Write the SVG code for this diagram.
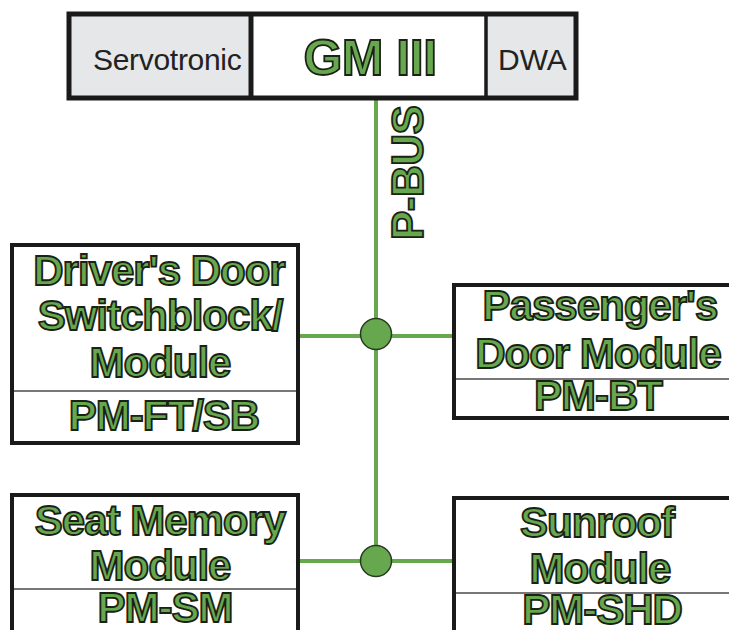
<svg xmlns="http://www.w3.org/2000/svg" width="729" height="630" viewBox="0 0 729 630">
  <style>
    .box { fill: #ffffff; stroke: #1a1a1a; stroke-width: 4; }
    .cell { fill: #e6e7e8; }
    .sep { stroke: #4a4a4a; stroke-width: 1.5; }
    .lbl { font-family: "Liberation Sans", Arial, sans-serif; font-weight: bold; fill: #67a84f; stroke: #1a2216; stroke-width: 1.8; text-anchor: middle; }
    .big { font-size: 42px; letter-spacing: -1px; }
    .plain { font-family: "Liberation Sans", Arial, sans-serif; font-size: 30px; fill: #222222; }
    .bus { stroke: #67a84f; stroke-width: 4; fill: none; }
    .node { fill: #67a84f; stroke: #2a3a22; stroke-width: 1.5; }
  </style>

  <!-- bus lines -->
  <g id="connectors">
    <line class="bus" x1="376" y1="99" x2="376" y2="561"/>
    <line class="bus" x1="299" y1="336" x2="454" y2="336"/>
    <line class="bus" x1="299" y1="561" x2="454" y2="561"/>
    <circle class="node" cx="376" cy="334" r="15.5"/>
    <circle class="node" cx="376" cy="561" r="15.5"/>
    <text class="lbl" font-size="44" transform="translate(423,240) rotate(-90)" style="text-anchor:start;letter-spacing:-0.5px">P-BUS</text>
  </g>

  <!-- central gateway module with side units -->
  <g id="gm3">
    <rect x="69" y="14" width="507" height="84" fill="#ffffff"/>
    <rect class="cell" x="71" y="16" width="180" height="80"/>
    <rect class="cell" x="486" y="16" width="88" height="80"/>
    <rect x="69" y="14" width="507" height="84" fill="none" stroke="#1a1a1a" stroke-width="5"/>
    <line x1="251" y1="14" x2="251" y2="98" stroke="#1a1a1a" stroke-width="5"/>
    <line x1="486" y1="14" x2="486" y2="98" stroke="#1a1a1a" stroke-width="3.5"/>
    <text class="plain" x="93" y="70" style="letter-spacing:-0.3px">Servotronic</text>
    <text class="lbl" x="370" y="75" font-size="50" style="letter-spacing:-0.5px">GM III</text>
    <text class="plain" x="498" y="70">DWA</text>
  </g>

  <g id="driver-door">
    <rect class="box" x="12" y="245" width="286" height="198"/>
    <line class="sep" x1="14" y1="391" x2="296" y2="391"/>
    <text class="lbl big" x="159" y="285">Driver's Door</text>
    <text class="lbl big" x="160" y="330">Switchblock/</text>
    <text class="lbl big" x="160" y="377">Module</text>
    <text class="lbl big" x="164" y="430">PM-FT/SB</text>
  </g>

  <g id="passenger-door">
    <rect class="box" x="454" y="285" width="290" height="133"/>
    <line class="sep" x1="456" y1="379" x2="729" y2="379"/>
    <text class="lbl big" x="600" y="320">Passenger's</text>
    <text class="lbl big" x="598" y="368">Door Module</text>
    <text class="lbl big" x="598" y="410">PM-BT</text>
  </g>

  <g id="seat-memory">
    <rect class="box" x="12" y="495" width="286" height="150"/>
    <line class="sep" x1="14" y1="589" x2="296" y2="589"/>
    <text class="lbl big" x="160" y="535">Seat Memory</text>
    <text class="lbl big" x="160" y="580">Module</text>
    <text class="lbl big" x="165" y="622">PM-SM</text>
  </g>

  <g id="sunroof">
    <rect class="box" x="454" y="498" width="290" height="150"/>
    <line class="sep" x1="456" y1="593" x2="729" y2="593"/>
    <text class="lbl big" x="597" y="537">Sunroof</text>
    <text class="lbl big" x="600" y="583">Module</text>
    <text class="lbl big" x="602" y="624">PM-SHD</text>
  </g>
</svg>
